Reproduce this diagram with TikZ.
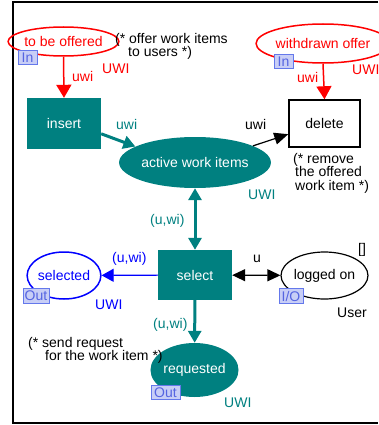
\documentclass[tikz,border=0pt]{standalone}
\usepackage{fontspec}
\setmainfont{Liberation Sans}
\usetikzlibrary{shapes.geometric,arrows.meta,calc}

\definecolor{cpnteal}{RGB}{0,128,128}
\definecolor{cpnred}{RGB}{255,0,0}
\definecolor{cpnblue}{RGB}{0,0,255}
\definecolor{tagline}{RGB}{100,120,235}
\definecolor{tagfill}{RGB}{200,206,246}
\definecolor{tagtext}{RGB}{85,100,225}

\begin{document}
\begin{tikzpicture}[x=1pt,y=-1pt,
  every node/.style={font=\fontsize{14}{14}\selectfont},
  place/.style={ellipse, inner sep=0pt},
  trans/.style={rectangle, inner sep=0pt},
  tealfill/.style={fill=cpnteal, text=white},
  porttag/.style={draw=tagline, fill=tagfill, text=tagtext, inner sep=0pt,
    line width=0.8pt, minimum height=14.5pt},
  lbl/.style={anchor=base west, inner sep=0pt},
  note/.style={anchor=north west, inner sep=0pt, align=left,
    font=\fontsize{14}{13.5}\selectfont},
  tealarc/.style={draw=cpnteal, line width=3pt,
    -{Triangle[length=12pt,width=13pt]}},
  tealboth/.style={draw=cpnteal, line width=3pt,
    {Triangle[length=12pt,width=13pt]}-{Triangle[length=12pt,width=13pt]}},
  redarc/.style={draw=cpnred, line width=1.5pt,
    -{Triangle[length=13pt,width=15pt]}},
  bluearc/.style={draw=cpnblue, line width=1.2pt,
    -{Triangle[length=12pt,width=13pt]}},
  blackarc/.style={draw=black, line width=1.2pt,
    -{Triangle[length=14pt,width=12pt]}},
  blackboth/.style={draw=black, line width=1.2pt,
    {Triangle[length=13pt,width=12pt]}-{Triangle[length=13pt,width=12pt]}},
]
\useasboundingbox (0,0) rectangle (378,425);

% page frame (open to the right)
\draw[line width=2pt] (378,2) -- (13,2) -- (13,423) -- (378,423);

% places
\node[place, draw=cpnred, line width=1.5pt, text=cpnred,
  minimum width=93pt, minimum height=29pt] (tbo) at (63.5,41.5) {to be offered};
\node[place, draw=cpnred, line width=1.5pt, text=cpnred,
  minimum width=102pt, minimum height=39pt] (wo) at (323,43.5) {withdrawn offer};
\node[place, tealfill, minimum width=140pt, minimum height=51pt]
  (act) at (195,162.5) {active work items};
\node[place, draw=cpnblue, line width=1.5pt, text=cpnblue,
  minimum width=72pt, minimum height=47pt] (sel) at (64,275.5) {selected};
\node[place, draw=black, line width=1.2pt,
  minimum width=83pt, minimum height=47pt] (log) at (324.5,275.5) {logged on};
\node[place, tealfill, minimum width=73pt, minimum height=54pt]
  (req) at (194.5,370) {requested};

% transitions
\node[trans, tealfill, minimum width=74pt, minimum height=51pt]
  (ins) at (64,123.5) {insert};
\node[trans, draw=black, fill=white, line width=1.5pt,
  minimum width=71pt, minimum height=47pt] (del) at (324.5,123.5) {delete};
\node[trans, tealfill, minimum width=74pt, minimum height=50pt]
  (selt) at (195,275) {select};

% arcs
\draw[redarc] (tbo.south) -- (ins.north);
\draw[redarc] (wo.south) -- (del.north);
\draw[tealarc] ($(ins.south east)!0.3!(ins.north east)$) -- (act.165);
\draw[blackarc] (act.16) -- ($(del.south west)!0.28!(del.north west)$);
\draw[tealboth] (act) -- (selt);
\draw[bluearc] (selt) -- (sel);
\draw[blackboth] (selt) -- (log);
\draw[tealarc] (selt) -- (req);

% port tags
\node[porttag, minimum width=19pt] (tagin1) at (27.5,57.5) {In};
\node[porttag, minimum width=19pt] (tagin2) at (283.5,61.5) {In};
\node[porttag, minimum width=26pt] (tagout1) at (36,296) {Out};
\node[porttag, minimum width=24pt] (tagio) at (291,296) {I/O};
\node[porttag, minimum width=29pt] (tagout2) at (165.5,392.5) {Out};

% arc inscriptions and colour sets
\node[lbl, text=cpnred] (i1) at (72,82) {uwi};
\node[lbl, text=cpnred] (c1) at (102,74) {UWI};
\node[lbl, text=cpnteal] (i2) at (116,129) {uwi};
\node[lbl] (i3) at (245,129) {uwi};
\node[lbl, text=cpnteal] (c2) at (248,199) {UWI};
\node[lbl, text=cpnred] (i4) at (297,83) {uwi};
\node[lbl, text=cpnred] (c3) at (352,75) {UWI};
\node[lbl, text=cpnteal] (i5) at (150,224) {(u,wi)};
\node[lbl, text=cpnblue] (i6) at (112,262) {(u,wi)};
\node[lbl, text=cpnblue] (c4) at (95,309) {UWI};
\node[lbl] (i7) at (253,262) {u};
\node[lbl] (m1) at (358,253) {[]};
\node[lbl] (c5) at (337,317) {User};
\node[lbl, text=cpnteal] (i8) at (153,328) {(u,wi)};
\node[lbl, text=cpnteal] (c6) at (224,407) {UWI};

% comments
\node[note] (n1) at (115,33) {(* offer work items\\\hspace*{13pt}to users *)};
\node[note] (n2) at (293,153) {(* remove\\\hspace*{2pt}the offered\\\hspace*{2pt}work item *)};
\node[note] (n3) at (28,337) {(* send request\\\hspace*{17pt}for the work item *)};
\end{tikzpicture}
\end{document}
